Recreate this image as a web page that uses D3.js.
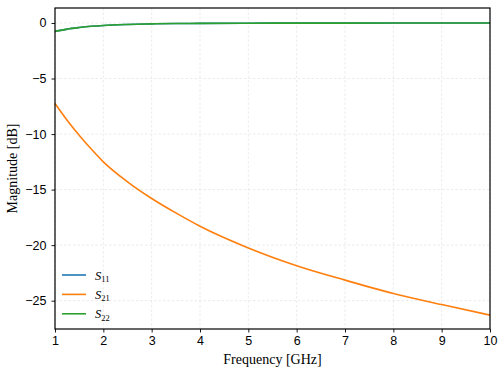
<!DOCTYPE html>
<html>
<head>
<meta charset="utf-8">
<script src="https://cdn.jsdelivr.net/npm/d3@7"></script>
<style>
  body { margin: 0; background: #fff; }
  svg { font-family: "Liberation Serif", "DejaVu Serif", serif; }
  .grid line { stroke: #e6e6e6; stroke-dasharray: 2.5,2; stroke-width: 0.8; }
  .axis path { display: none; }
  .axis line { stroke: #000; stroke-width: 0.9; }
  .axis text { font-size: 12.5px; fill: #000; }
</style>
</head>
<body>
<div id="chart"></div>
<script>
var freq = [1, 1.25, 1.5, 1.75, 2, 2.5, 3, 3.5, 4, 5, 6, 7, 8, 9, 10];
var s11  = [-0.76, -0.55, -0.41, -0.3, -0.22, -0.13, -0.08, -0.05, -0.035, -0.02, -0.012, -0.008, -0.005, -0.003, -0.002];
var s22  = [-0.76, -0.55, -0.41, -0.3, -0.22, -0.13, -0.08, -0.05, -0.035, -0.02, -0.012, -0.008, -0.005, -0.003, -0.002];
var s21  = [-7.25, -8.75, -10.1, -11.35, -12.5, -14.3, -15.8, -17.1, -18.3, -20.25, -21.85, -23.15, -24.35, -25.35, -26.3];
var xTicks = [1, 2, 3, 4, 5, 6, 7, 8, 9, 10];
var yTicks = [0, -5, -10, -15, -20, -25];

var w = 504, h = 376;
var pLeft = 55, pRight = 490, pTop = 8, pBottom = 329;

var svg = d3.select("#chart").append("svg")
  .attr("width", w)
  .attr("height", h);

var xScale = d3.scaleLinear().domain([1, 10]).range([pLeft, pRight]);
var yScale = d3.scaleLinear().domain([-27.55, 1.35]).range([pBottom, pTop]);

// grid
svg.append("g").attr("class", "grid")
  .selectAll("line").data(xTicks).enter().append("line")
  .attr("x1", function(d) { return xScale(d); })
  .attr("x2", function(d) { return xScale(d); })
  .attr("y1", pTop).attr("y2", pBottom);
svg.append("g").attr("class", "grid")
  .selectAll("line").data(yTicks).enter().append("line")
  .attr("y1", function(d) { return yScale(d); })
  .attr("y2", function(d) { return yScale(d); })
  .attr("x1", pLeft).attr("x2", pRight);

var fmt = function(d) { return d < 0 ? "\u2212" + Math.abs(d) : d; };

var xAxis = d3.axisBottom(xScale).tickValues(xTicks).tickSize(3.5).tickPadding(4).tickFormat(fmt);
var yAxis = d3.axisLeft(yScale).tickValues(yTicks).tickSize(3.5).tickPadding(5).tickFormat(fmt);

svg.append("g").attr("class", "axis")
  .attr("transform", "translate(0," + pBottom + ")")
  .call(xAxis);
svg.append("g").attr("class", "axis")
  .attr("transform", "translate(" + pLeft + ",0)")
  .call(yAxis);

// lines
var series = [
  { name: "11", values: s11, color: "#1f77b4" },
  { name: "21", values: s21, color: "#ff7f0e" },
  { name: "22", values: s22, color: "#2ca02c" }
];

var line = d3.line()
  .x(function(d) { return xScale(d[0]); })
  .y(function(d) { return yScale(d[1]); })
  .curve(d3.curveMonotoneX);

svg.selectAll(".series").data(series).enter().append("path")
  .attr("class", "series")
  .attr("fill", "none")
  .attr("stroke", function(d) { return d.color; })
  .attr("stroke-width", 1.6)
  .attr("d", function(d) { return line(freq.map(function(f, i) { return [f, d.values[i]]; })); });

// frame
svg.append("rect")
  .attr("x", pLeft).attr("y", pTop)
  .attr("width", pRight - pLeft).attr("height", pBottom - pTop)
  .attr("fill", "none")
  .attr("stroke", "#000")
  .attr("stroke-width", 1.2);

// legend
var legend = svg.append("g").selectAll("g").data(series).enter().append("g")
  .attr("transform", function(d, i) { return "translate(62," + (275 + i * 19.4) + ")"; });
legend.append("line")
  .attr("x1", 0).attr("x2", 24)
  .attr("stroke", function(d) { return d.color; })
  .attr("stroke-width", 1.6);
var lt = legend.append("text")
  .attr("x", 33).attr("y", 4.5)
  .style("font-size", "12.5px");
lt.append("tspan").style("font-style", "italic").text("S");
lt.append("tspan").attr("dy", 2.5).style("font-size", "8.5px").text(function(d) { return d.name; });

// axis labels
svg.append("text")
  .attr("x", (pLeft + pRight) / 2).attr("y", 364)
  .attr("text-anchor", "middle")
  .style("font-size", "14px")
  .text("Frequency [GHz]");
svg.append("text")
  .attr("transform", "translate(17," + ((pTop + pBottom) / 2) + ") rotate(-90)")
  .attr("text-anchor", "middle")
  .style("font-size", "14px")
  .text("Magnitude [dB]");
</script>
</body>
</html>
